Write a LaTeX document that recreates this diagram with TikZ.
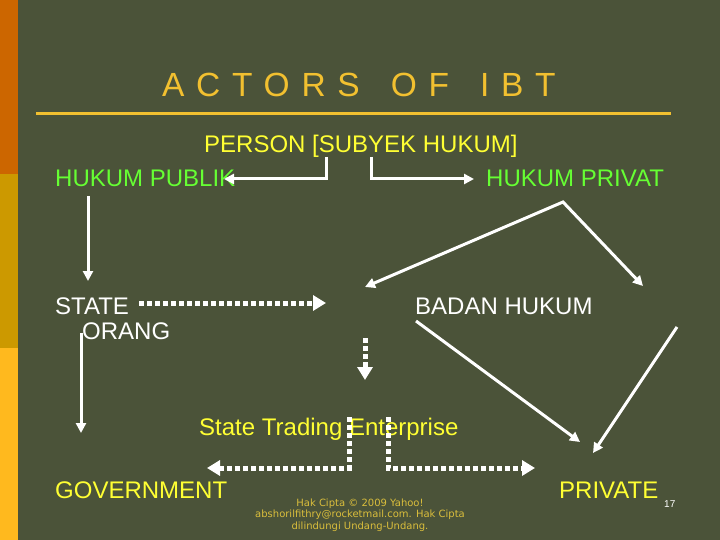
\documentclass[tikz,border=0pt]{standalone}
\usepackage{fontspec}
\setmainfont{Liberation Sans}
\newfontfamily\titlefont[LetterSpace=35]{Liberation Sans}
\newfontfamily\footfont{DejaVu Sans}
\usetikzlibrary{arrows.meta}
\definecolor{bg}{RGB}{75,83,57}
\definecolor{stripA}{RGB}{204,102,0}
\definecolor{stripB}{RGB}{204,153,0}
\definecolor{stripC}{RGB}{255,185,30}
\definecolor{titlegold}{RGB}{242,192,48}
\definecolor{yel}{RGB}{255,255,51}
\definecolor{grn}{RGB}{102,255,51}
\definecolor{footgold}{RGB}{218,190,60}
\tikzset{
  lbl/.style={anchor=base west, inner sep=0pt, font=\fontsize{24}{28}\selectfont},
  solidarrow/.style={draw=white, line width=3pt, line join=miter, -{Triangle[length=10pt,width=10pt]}},
  dotarrow/.style={draw=white, line width=5pt, dash pattern=on 5pt off 3pt, -{Triangle[length=13pt,width=15pt]}},
}
\begin{document}
\begin{tikzpicture}[x=1pt,y=-1pt]
\useasboundingbox (0,0) rectangle (720,540);
\fill[bg] (0,0) rectangle (720,540);
\fill[stripA] (0,0) rectangle (18,174);
\fill[stripB] (0,174) rectangle (18,348);
\fill[stripC] (0,348) rectangle (18,540);

% title
\node[anchor=base west, inner sep=0pt, text=titlegold, font=\titlefont\fontsize{33.5}{40}\selectfont] (title) at (162,97) {ACTORS\hspace{10pt} OF\hspace{10pt} IBT};
\coordinate (ruleL) at (36,114);
\coordinate (ruleR) at (671,114);
\draw[titlegold, line width=3pt] (ruleL) -- (ruleR);

% labels
\node[lbl, text=yel] (person) at (204,153) {PERSON [SUBYEK HUKUM]};
\node[lbl, text=grn] (publik) at (55,187) {HUKUM PUBLIK};
\node[lbl, text=grn] (privat) at (486,187) {HUKUM PRIVAT};
\node[lbl, text=white] (state) at (55,314) {STATE};
\node[lbl, text=white] (orang) at (82,339) {ORANG};
\node[lbl, text=white] (badan) at (415,314) {BADAN HUKUM};
\node[lbl, text=yel] (ste) at (199,435) {State Trading Enterprise};
\node[lbl, text=yel] (gov) at (55,498) {GOVERNMENT};
\node[lbl, text=yel] (private) at (559,498) {PRIVATE};
\node[anchor=base west, inner sep=0pt, text=white, font=\fontsize{10}{12}\selectfont] (pnum) at (664,507) {17};
\node[anchor=base, inner sep=0pt, text=footgold, align=center, font=\footfont\fontsize{10}{11.2}\selectfont] (foot) at (360,529)
  {Hak Cipta © 2009 Yahoo!\\abshorilfithry@rocketmail.com. Hak Cipta\\dilindungi Undang-Undang.};

% connector points
\coordinate (p1) at (326,157);
\coordinate (p1c) at (326,179);
\coordinate (p1e) at (224,179);
\coordinate (p2) at (371,157);
\coordinate (p2c) at (371,179);
\coordinate (p2e) at (474,179);
\coordinate (pub1) at (88,196);
\coordinate (pub2) at (88,281);
\coordinate (vL) at (365,287);
\coordinate (vP) at (563,202);
\coordinate (vR) at (643,286);
\coordinate (st1) at (139,303);
\coordinate (st2) at (326,303);
\coordinate (dd1) at (365,338);
\coordinate (dd2) at (365,380);
\coordinate (or1) at (81,333);
\coordinate (or2) at (81,433);
\coordinate (bh1) at (416,321);
\coordinate (bh2) at (580,442);
\coordinate (rr1) at (677,327);
\coordinate (rr2) at (593,453);
\coordinate (gl1) at (349,417);
\coordinate (glc) at (349,468);
\coordinate (gl2) at (207,468);
\coordinate (pr1) at (388,417);
\coordinate (prc) at (388,468);
\coordinate (pr2) at (535,468);

% solid connectors
\draw[solidarrow] (p1) -- (p1c) -- (p1e);
\draw[solidarrow] (p2) -- (p2c) -- (p2e);
\draw[solidarrow] (pub1) -- (pub2);
\draw[solidarrow, {Triangle[length=10pt,width=10pt]}-{Triangle[length=10pt,width=10pt]}] (vL) -- (vP) -- (vR);
\draw[solidarrow] (or1) -- (or2);
\draw[solidarrow] (bh1) -- (bh2);
\draw[solidarrow] (rr1) -- (rr2);

% dotted connectors
\draw[dotarrow] (st1) -- (st2);
\draw[dotarrow] (dd1) -- (dd2);
\draw[dotarrow] (gl1) -- (glc) -- (gl2);
\draw[dotarrow] (pr1) -- (prc) -- (pr2);
\end{tikzpicture}
\end{document}
